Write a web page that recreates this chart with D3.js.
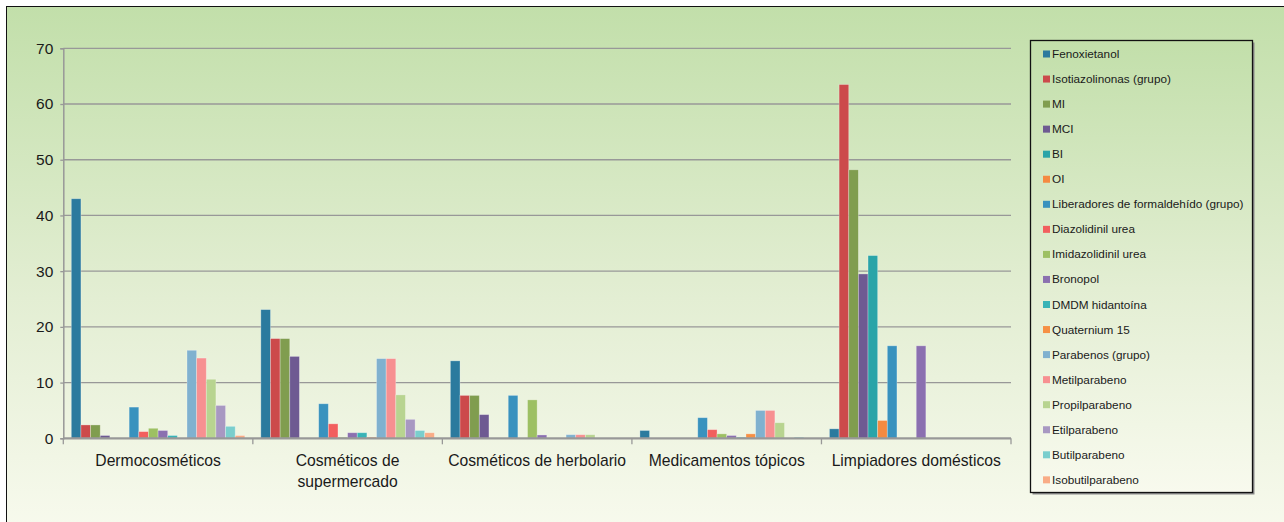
<!DOCTYPE html>
<html>
<head>
<meta charset="utf-8">
<script src="https://cdn.jsdelivr.net/npm/d3@7/dist/d3.min.js"></script>
<style>
  html, body { margin: 0; padding: 0; background: #fff; }
  svg { display: block; font-family: "Liberation Sans", Arial, sans-serif; }
</style>
</head>
<body>
<svg id="chart" width="1284" height="522"></svg>
<script>
const categories = ["Dermocosméticos", "Cosméticos de supermercado", "Cosméticos de herbolario", "Medicamentos tópicos", "Limpiadores domésticos"];
const seriesNames = ["Fenoxietanol", "Isotiazolinonas (grupo)", "MI", "MCI", "BI", "OI",
  "Liberadores de formaldehído (grupo)", "Diazolidinil urea", "Imidazolidinil urea", "Bronopol",
  "DMDM hidantoína", "Quaternium 15", "Parabenos (grupo)", "Metilparabeno", "Propilparabeno",
  "Etilparabeno", "Butilparabeno", "Isobutilparabeno"];
const seriesColors = ["#2B7A9E", "#CC4A4B", "#809D4F", "#6E5A92", "#2AA4A8", "#F58A41",
  "#3992BE", "#F25F5E", "#9DC063", "#8B70B0", "#38B3B6", "#F69045",
  "#80B1CF", "#F79091", "#B8D490", "#A898C2", "#7ACECD", "#F9AC86"];
// values per series, one per category
const fenoxietanol     = [43.0, 23.1, 13.9, 1.4, 1.7];
const isotiazolinonas  = [2.4, 17.9, 7.7, 0, 63.5];
const mi               = [2.4, 17.9, 7.7, 0, 48.2];
const mci              = [0.5, 14.7, 4.25, 0, 29.5];
const bi               = [0, 0, 0, 0, 32.8];
const oi               = [0, 0, 0, 0, 3.2];
const liberadores      = [5.6, 6.2, 7.7, 3.7, 16.6];
const diazolidinil     = [1.2, 2.6, 0, 1.55, 0];
const imidazolidinil   = [1.8, 0.2, 6.9, 0.8, 0];
const bronopol         = [1.4, 1.0, 0.6, 0.5, 16.6];
const dmdm             = [0.5, 1.0, 0, 0.2, 0];
const quaternium       = [0, 0.2, 0, 0.8, 0];
const parabenos        = [15.8, 14.3, 0.65, 5.0, 0];
const metilparabeno    = [14.4, 14.3, 0.65, 5.0, 0];
const propilparabeno   = [10.6, 7.8, 0.65, 2.8, 0];
const etilparabeno     = [5.9, 3.4, 0, 0, 0];
const butilparabeno    = [2.15, 1.4, 0, 0.2, 0];
const isobutilparabeno = [0.5, 1.0, 0, 0, 0];
const yTicks = [0, 10, 20, 30, 40, 50, 60, 70];

const seriesValues = [fenoxietanol, isotiazolinonas, mi, mci, bi, oi, liberadores, diazolidinil,
  imidazolidinil, bronopol, dmdm, quaternium, parabenos, metilparabeno, propilparabeno,
  etilparabeno, butilparabeno, isobutilparabeno];

(function () {
const svg = d3.select("#chart");
const defs = svg.append("defs");
const grad = defs.append("linearGradient").attr("id", "bg").attr("x1", 0).attr("y1", 0).attr("x2", 0).attr("y2", 1);
grad.append("stop").attr("offset", "0%").attr("stop-color", "#C2DFAA");
grad.append("stop").attr("offset", "55%").attr("stop-color", "#E3EED3");
grad.append("stop").attr("offset", "100%").attr("stop-color", "#F8FAEE");

// chart area background + border
svg.append("rect").attr("x", 6.5).attr("y", 6.5).attr("width", 1290).attr("height", 530)
  .attr("fill", "url(#bg)").attr("stroke", "#111").attr("stroke-width", 1);

const pLeft = 63.3, pRight = 1011, pTop = 48.3, pBottom = 438.3;

const x0 = d3.scaleBand().domain(categories).range([pLeft, pRight]).padding(0);
const gap = 8;
const x1 = d3.scaleBand().domain(seriesNames).range([gap, x0.bandwidth() - gap]).padding(0);
const y = d3.scaleLinear().domain([0, 70]).range([pBottom, pTop]);

// gridlines
svg.append("g").selectAll("line").data(yTicks.filter(d => d > 0)).join("line")
  .attr("x1", pLeft).attr("x2", pRight)
  .attr("y1", d => y(d)).attr("y2", d => y(d))
  .attr("stroke", "#989898").attr("stroke-width", 1.3);

// y axis
const yAxis = svg.append("g").attr("transform", `translate(${pLeft},0)`)
  .call(d3.axisLeft(y).tickValues(yTicks).tickSize(3).tickPadding(7));
yAxis.select(".domain").attr("stroke", "#989898").attr("stroke-width", 1.5);
yAxis.selectAll(".tick line").attr("stroke", "#989898").attr("stroke-width", 1.3);
yAxis.selectAll("text").attr("font-size", "15.5px").attr("fill", "#1a1a1a")
  .attr("font-family", "Liberation Sans, Arial, sans-serif");

// bars
const groups = svg.append("g").selectAll("g").data(categories).join("g")
  .attr("transform", d => `translate(${x0(d)},0)`);
groups.selectAll("rect")
  .data((c, ci) => seriesNames.map((s, si) => ({ s, si, v: seriesValues[si][ci] })).filter(d => d.v > 0))
  .join("rect")
  .attr("x", d => x1(d.s))
  .attr("width", x1.bandwidth())
  .attr("y", d => y(d.v))
  .attr("height", d => y(0) - y(d.v))
  .attr("fill", d => seriesColors[d.si])
  .attr("stroke", "rgba(255,255,255,0.35)")
  .attr("stroke-width", 0.8);

// x axis
const xAxisG = svg.append("g");
xAxisG.append("line").attr("x1", pLeft).attr("x2", pRight).attr("y1", pBottom).attr("y2", pBottom)
  .attr("stroke", "#989898").attr("stroke-width", 2.2);
const bounds = categories.map(c => x0(c)).concat([pRight]);
xAxisG.selectAll("line.tk").data(bounds).join("line").attr("class", "tk")
  .attr("x1", d => d).attr("x2", d => d).attr("y1", pBottom).attr("y2", pBottom + 6)
  .attr("stroke", "#989898").attr("stroke-width", 1.3);

// category labels with wrapping
const labelG = svg.append("g").attr("font-size", "15.7px").attr("fill", "#1a1a1a").attr("text-anchor", "middle");
categories.forEach(c => {
  const cx = x0(c) + x0.bandwidth() / 2;
  const t = labelG.append("text").attr("x", cx).attr("y", pBottom + 28);
  const words = c.split(" ");
  let line = [];
  let tspan = t.append("tspan").attr("x", cx).attr("dy", 0);
  words.forEach(w => {
    line.push(w);
    tspan.text(line.join(" "));
    if (tspan.node().getComputedTextLength() > x0.bandwidth() - 4 && line.length > 1) {
      line.pop();
      tspan.text(line.join(" "));
      line = [w];
      tspan = t.append("tspan").attr("x", cx).attr("dy", 21).text(w);
    }
  });
});

// legend
const lg = svg.append("g");
lg.append("rect").attr("x", 1032.5).attr("y", 42.5).attr("width", 222).attr("height", 452)
  .attr("fill", "#8a8a8a");
lg.append("rect").attr("x", 1030.5).attr("y", 40.5).attr("width", 222).attr("height", 452)
  .attr("fill", "url(#bg)").attr("stroke", "#111").attr("stroke-width", 1.3);
const items = lg.selectAll("g.item").data(seriesNames).join("g").attr("class", "item")
  .attr("transform", (d, i) => `translate(1043, ${54 + i * 25.05})`);
items.append("rect").attr("x", 0).attr("y", -3.5).attr("width", 7).attr("height", 7)
  .attr("fill", (d, i) => seriesColors[i]);
items.append("text").attr("x", 9).attr("y", 4).attr("font-size", "11.75px").attr("fill", "#1a1a1a")
  .text(d => d);
})();
</script>
</body>
</html>
